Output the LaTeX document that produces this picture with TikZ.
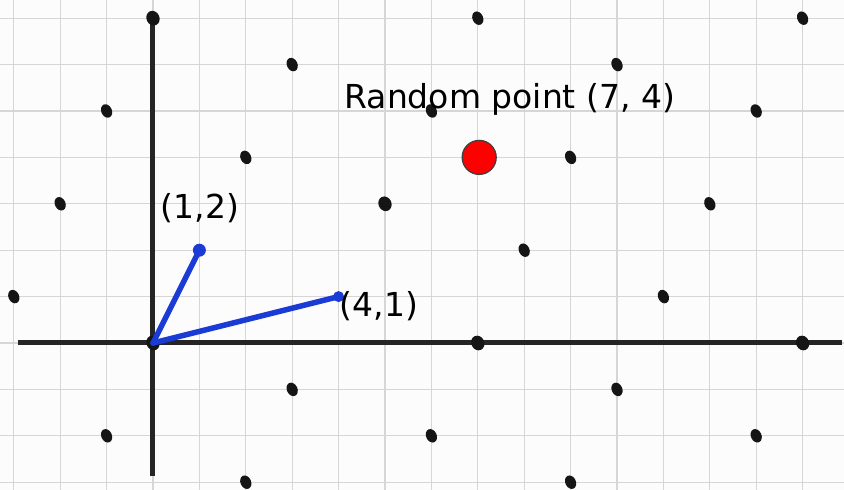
\documentclass[tikz,border=0pt]{standalone}
\usepackage{fontspec}
\setmainfont{DejaVu Sans}
\definecolor{bgc}{HTML}{FCFCFC}
\definecolor{gridc}{HTML}{D6D6D6}
\definecolor{axisc}{HTML}{252525}
\definecolor{dotc}{HTML}{151515}
\definecolor{vecc}{HTML}{1A3BD6}
\begin{document}
\begin{tikzpicture}[x=46.4pt,y=46.4pt,
  gridline/.style={draw=gridc,line width=1.3pt},
  axisline/.style={draw=axisc,line width=5pt},
  vecline/.style={draw=vecc,line width=5.5pt,line cap=round},
  bluedot/.style={circle,fill=vecc,inner sep=0pt,minimum size=13pt},
  reddot/.style={circle,fill=red,draw=black!75,line width=1.3pt,inner sep=0pt,minimum size=34pt},
  lbl/.style={font=\fontsize{33}{37}\selectfont,text=black,inner sep=0pt}]
\fill[bgc] (-3.297,-3.168) rectangle (14.892,7.392);
\useasboundingbox (-3.297,-3.168) rectangle (14.892,7.392);
\foreach \i in {-3,...,14} \draw[gridline] (\i,-3.168) -- (\i,7.392);
\foreach \j in {-3,...,7} \draw[gridline] (-3.297,\j) -- (14.892,\j);
\coordinate (xl) at (-2.91,0);
\coordinate (xr) at (14.85,0);
\coordinate (yt) at (0,7.0);
\coordinate (yb) at (0,-2.87);
\draw[axisline] (xl) -- (xr);
\draw[axisline] (yb) -- (yt);
\foreach \x in {-3,...,14}{
  \foreach \y in {-3,...,7}{
    \pgfmathtruncatemacro\r{mod(\y-2*\x+70,7)}
    \pgfmathtruncatemacro\s{(\x==1 && \y==2) || (\x==4 && \y==1)}
    \pgfmathtruncatemacro\b{(\x==5 && \y==3) || (\y==0) || (\x==0 && \y==7)}
    \ifnum\r=0 \ifnum\s=0
      \ifnum\b=1
        \fill[dotc,rotate around={25:(\x,\y)}] (\x,\y) ellipse (6.5pt and 7.5pt);
      \else
        \fill[dotc,rotate around={25:(\x,\y)}] (\x,\y) ellipse (5.3pt and 7pt);
      \fi
    \fi\fi
  }
}
\coordinate (o) at (0,0);
\node[bluedot] (v1) at (1,2) {};
\node[bluedot,minimum size=11pt] (v2) at (4,1) {};
\draw[vecline] (o) -- (v1.center);
\draw[vecline] (o) -- (v2.center);
\node[lbl] (l1) at (1.01,2.91) {(1,2)};
\node[lbl] (l2) at (4.87,0.80) {(4,1)};
\node[reddot] (rp) at (7.03,4.0) {};
\node[lbl] (lr) at (7.69,5.24) {Random point (7, 4)};
\end{tikzpicture}
\end{document}
